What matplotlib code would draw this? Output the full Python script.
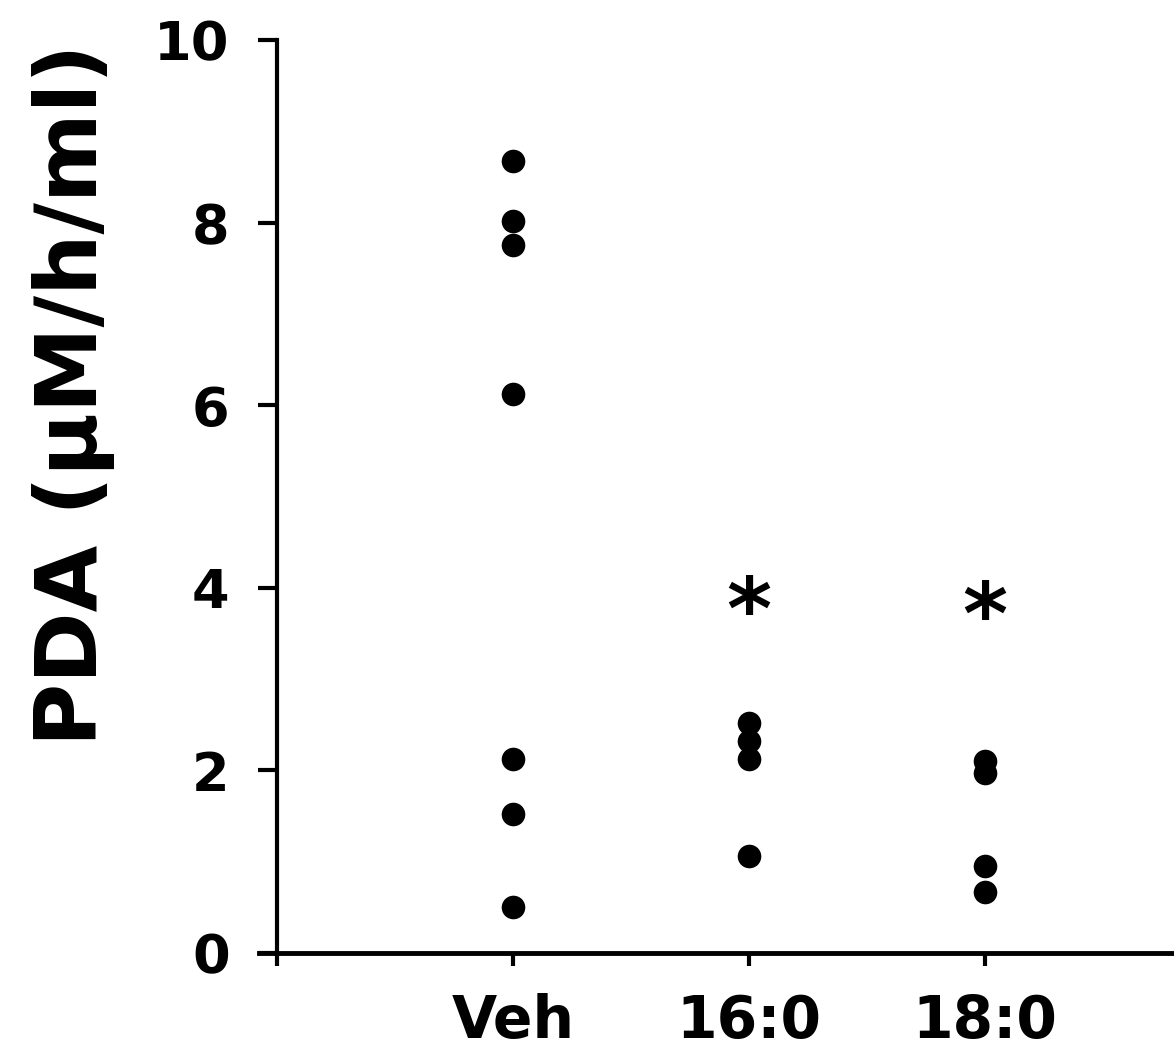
import matplotlib
matplotlib.use("Agg")
import matplotlib.pyplot as plt

groups = ["Veh", "16:0", "18:0"]
veh = [8.68, 8.02, 7.76, 6.12, 2.12, 1.52, 0.50]
c16 = [2.52, 2.32, 2.12, 1.06]
c18 = [2.10, 1.97, 0.95, 0.67]
values = [veh, c16, c18]
star_y = [None, 3.70, 3.64]
y_ticks = [0, 2, 4, 6, 8, 10]

plt.rcParams["font.family"] = "DejaVu Sans"
plt.rcParams["font.weight"] = "bold"

fig = plt.figure(figsize=(11.74, 10.58), dpi=100)
ax = fig.add_axes([259 / 1174, 1 - 953 / 1058, 1 - 259 / 1174, (953 - 40) / 1058])

for i, vals in enumerate(values):
    ax.plot([i + 1] * len(vals), vals, "o", color="black", markersize=17,
            markeredgewidth=0, linestyle="none", clip_on=False)
    if star_y[i] is not None:
        ax.text(i + 1, star_y[i], "*", ha="center", va="center",
                fontsize=62, fontweight="bold")

ax.set_xlim(-0.076, 3.80)
ax.set_ylim(0, 10)
ax.spines["left"].set_position(("data", 0))
ax.spines["top"].set_visible(False)
ax.spines["right"].set_visible(False)
ax.spines["left"].set_linewidth(3)
ax.spines["bottom"].set_linewidth(3.5)

ax.set_xticks([0, 1, 2, 3])
ax.set_xticklabels([""] + groups)
ax.set_yticks(y_ticks)
ax.set_yticklabels([str(t) for t in y_ticks])
ax.tick_params(axis="y", direction="out", length=14, width=3, pad=20, labelsize=39)
ax.tick_params(axis="x", direction="out", length=9, width=3, pad=20, labelsize=42)

ax.set_ylabel("PDA (µM/h/ml)", fontsize=62, fontweight="bold", va="center")
ax.yaxis.set_label_coords(74 / 1174, 1 - 395 / 1058, transform=fig.transFigure)

fig.savefig("out.png", dpi=100, facecolor="white")
